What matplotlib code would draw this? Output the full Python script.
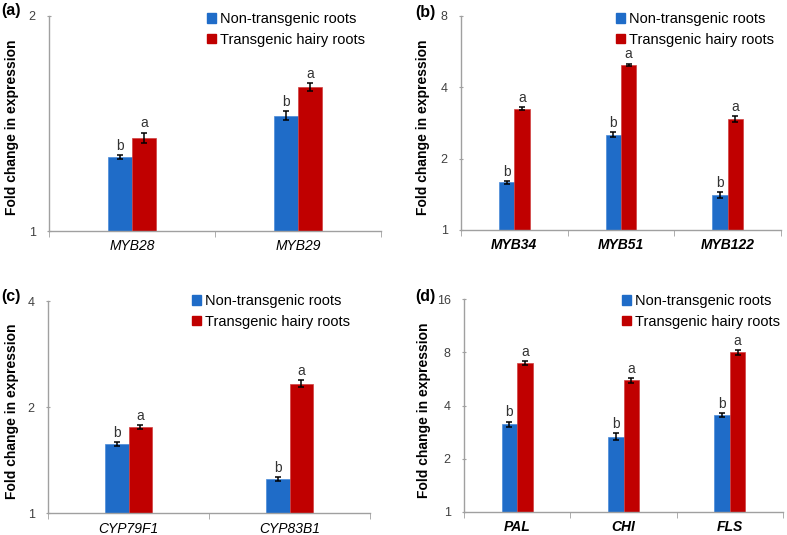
import matplotlib
matplotlib.use('Agg')
import matplotlib.pyplot as plt
from matplotlib.patches import Patch
import numpy as np

plt.rcParams['font.family'] = ['Liberation Sans', 'DejaVu Sans']

"""data read off the figure"""

genes_a = ['MYB28', 'MYB29']
ctrl_a = [1.27, 1.45]
ctrl_a_err = [0.008, 0.022]
trans_a = [1.35, 1.59]
trans_a_err = [0.023, 0.02]

genes_b = ['MYB34', 'MYB51', 'MYB122']
ctrl_b = [1.59, 2.52, 1.40]
ctrl_b_err = [0.023, 0.06, 0.04]
trans_b = [3.24, 4.96, 2.95]
trans_b_err = [0.047, 0.07, 0.085]

genes_c = ['CYP79F1', 'CYP83B1']
ctrl_c = [1.57, 1.25]
ctrl_c_err = [0.02, 0.017]
trans_c = [1.76, 2.33]
trans_c_err = [0.023, 0.053]

genes_d = ['PAL', 'CHI', 'FLS']
ctrl_d = [3.13, 2.67, 3.55]
ctrl_d_err = [0.12, 0.12, 0.09]
trans_d = [6.94, 5.56, 8.0]
trans_d_err = [0.18, 0.18, 0.21]

ctrl_letter = 'b'
trans_letter = 'a'
ytick_a = [1, 2]
ytick_b = [1, 2, 4, 8]
ytick_c = [1, 2, 4]
ytick_d = [1, 2, 4, 8, 16]

blue = '#1f6cc8'
red = '#c00000'
W, H = 787, 535

fig = plt.figure(figsize=(7.87, 5.35), dpi=100)


def px_axes(left, right, top, bottom):
    ax = fig.add_axes([left / W, 1 - bottom / H, (right - left) / W, (bottom - top) / H])
    ax.px_box = (left, right)
    return ax


def panel(ax, genes, c, ce, t, te, yticks, tag, tagxy, ylab_px, leg_xy, boldx):
    n = len(genes)
    x = np.arange(n)
    w = 0.145
    ax.bar(x - w / 2, np.array(c) - 1, w, bottom=1, color=blue, edgecolor='#4a8ad8', linewidth=0.5,
           yerr=ce, error_kw=dict(ecolor='black', elinewidth=1.1, capsize=2.5, capthick=1.1))
    ax.bar(x + w / 2, np.array(t) - 1, w, bottom=1, color=red, edgecolor='#d04040', linewidth=0.5,
           yerr=te, error_kw=dict(ecolor='black', elinewidth=1.1, capsize=2.5, capthick=1.1))
    for i in range(n):
        ax.annotate(ctrl_letter, (x[i] - w / 2, c[i] + ce[i]), xytext=(0, 1.5), textcoords='offset points',
                    ha='center', va='bottom', fontsize=10, color='#333333')
        ax.annotate(trans_letter, (x[i] + w / 2, t[i] + te[i]), xytext=(0, 1.5), textcoords='offset points',
                    ha='center', va='bottom', fontsize=10, color='#333333')
    ax.set_yscale('log', base=2)
    ax.set_ylim(yticks[0], yticks[-1])
    ax.set_yticks(yticks)
    ax.set_yticklabels([str(v) for v in yticks])
    ax.minorticks_off()
    ax.set_xlim(-0.5, n - 0.5)
    ax.set_xticks(x)
    ax.set_xticklabels(genes, style='italic', fontweight='bold' if boldx else 'normal', fontsize=10)
    ax.tick_params(axis='x', length=0, pad=6)
    ax.set_xticks(np.arange(n + 1) - 0.5, minor=True)
    ax.tick_params(axis='x', which='minor', length=4, color='#a0a0a0', direction='out')
    ax.tick_params(axis='y', length=3, color='#a0a0a0', direction='inout', labelsize=9,
                   labelcolor='#404040', pad=8)
    for s in ['top', 'right']:
        ax.spines[s].set_visible(False)
    for s in ['left', 'bottom']:
        ax.spines[s].set_color('#a0a0a0')
        ax.spines[s].set_linewidth(1.0)
    ax.set_ylabel('Fold change in expression', fontweight='bold', fontsize=10)
    left, right = ax.px_box
    ax.yaxis.set_label_coords((ylab_px - left) / (right - left), 0.48)
    fig.text(tagxy[0] / W, 1 - tagxy[1] / H, tag, fontweight='bold', fontsize=11.5, ha='left', va='center')
    handles = [Patch(color=blue), Patch(color=red)]
    ax.legend(handles, ['Non-transgenic roots', 'Transgenic hairy roots'], loc='upper left',
              bbox_to_anchor=(leg_xy[0] / W, 1 - leg_xy[1] / H), bbox_transform=fig.transFigure,
              frameon=False, fontsize=10.5, handlelength=0.65, handleheight=0.65, handletextpad=0.25,
              labelspacing=0.45, borderpad=0, borderaxespad=0)


ax1 = px_axes(49, 381, 15.7, 231)
panel(ax1, genes_a, ctrl_a, ctrl_a_err, trans_a, trans_a_err, ytick_a, '(a)', (1, 11), 19,
      (207, 12), False)
ax2 = px_axes(461, 781, 15.7, 230)
panel(ax2, genes_b, ctrl_b, ctrl_b_err, trans_b, trans_b_err, ytick_b, '(b)', (415, 12), 430,
      (616, 12), True)
ax3 = px_axes(48, 370, 301, 513.3)
panel(ax3, genes_c, ctrl_c, ctrl_c_err, trans_c, trans_c_err, ytick_c, '(c)', (1, 297), 19,
      (192, 294), False)
ax4 = px_axes(464, 783, 299.3, 512)
panel(ax4, genes_d, ctrl_d, ctrl_d_err, trans_d, trans_d_err, ytick_d, '(d)', (415, 297), 431,
      (622, 294), True)

plt.savefig('out.png', dpi=100)
